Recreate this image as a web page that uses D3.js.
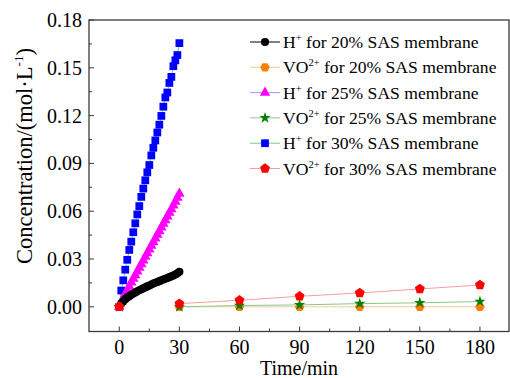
<!DOCTYPE html>
<html>
<head>
<meta charset="utf-8">
<script src="https://cdn.jsdelivr.net/npm/d3@7"></script>
<style>
  body { margin: 0; background: #fff; }
  svg { display: block; font-family: "Liberation Serif", "Times New Roman", serif; }
</style>
</head>
<body>
<div id="chart"></div>
<script>

///
/// Data
///
const tH = [0, 1, 2, 3, 4, 5, 6, 7, 8, 9, 10, 11, 12, 13, 14, 15, 16, 17, 18, 19, 20,
            21, 22, 23, 24, 25, 26, 27, 28, 29, 30];

const h20 = [0, 0.0020, 0.0035, 0.0048, 0.0058, 0.0067, 0.0075, 0.0083, 0.0090, 0.0097, 0.0104,
             0.0110, 0.0116, 0.0122, 0.0128, 0.0134, 0.0140, 0.0146, 0.0151, 0.0156, 0.0161,
             0.0166, 0.0171, 0.0176, 0.0181, 0.0186, 0.0191, 0.0196, 0.0203, 0.0210, 0.0220];

const h25 = [0, 0.0030, 0.0055, 0.0080, 0.0104, 0.0128, 0.0152, 0.0176, 0.0199, 0.0222, 0.0245,
             0.0268, 0.0291, 0.0314, 0.0337, 0.0360, 0.0383, 0.0406, 0.0429, 0.0452, 0.0475,
             0.0498, 0.0521, 0.0544, 0.0567, 0.0590, 0.0613, 0.0636, 0.0660, 0.0685, 0.0710];

const h30 = [0, 0.0102, 0.0166, 0.0233, 0.0295, 0.0357, 0.0409, 0.0468, 0.0524, 0.0580, 0.0632,
             0.0690, 0.0742, 0.0794, 0.0844, 0.0890, 0.0950, 0.0998, 0.1044, 0.1094, 0.1143,
             0.1198, 0.1256, 0.1314, 0.1345, 0.1405, 0.1443, 0.1510, 0.1547, 0.1580, 0.1655];

const tVO = [0, 30, 60, 90, 120, 150, 180];
const vo20 = [0, 0, 0, 0, 0, 0, 0];
const vo25 = [0, 0, 0.0008, 0.0012, 0.0020, 0.0025, 0.0033];
const vo30 = [0, 0.0020, 0.0041, 0.0066, 0.0087, 0.0112, 0.0137];

const xTicks = [0, 30, 60, 90, 120, 150, 180];
const yTicks = [0, 0.03, 0.06, 0.09, 0.12, 0.15, 0.18];

const series = [
  { ion: "H", sup: "+", pct: "20%", t: tH, v: h20, shape: "circle", fill: "#000000", line: "#000000" },
  { ion: "VO", sup: "2+", pct: "20%", t: tVO, v: vo20, shape: "hexagon", fill: "#ff8000", line: "#f7c89a" },
  { ion: "H", sup: "+", pct: "25%", t: tH, v: h25, shape: "triangle", fill: "#ff00ff", line: "#9c9cff" },
  { ion: "VO", sup: "2+", pct: "25%", t: tVO, v: vo25, shape: "star", fill: "#008000", line: "#8cc88c" },
  { ion: "H", sup: "+", pct: "30%", t: tH, v: h30, shape: "square", fill: "#0000ff", line: "#80c880" },
  { ion: "VO", sup: "2+", pct: "30%", t: tVO, v: vo30, shape: "pentagon", fill: "#ff0000", line: "#f2a0a0" }
];

///
/// Setup
///
const width = 510, height = 378;
const pLeft = 89, pRight = 509, pTop = 20, pBottom = 331.5;

const svg = d3.select("#chart").append("svg")
  .attr("width", width)
  .attr("height", height);

const x = d3.scaleLinear().domain([-15.1, 194.5]).range([pLeft, pRight]);
const y = d3.scaleLinear().domain([-0.0155, 0.18]).range([pBottom, pTop]);

///
/// Markers
///
function polygon(n, r, rot) {
  var pts = [];
  for (var i = 0; i < n; i++) {
    var a = rot + i * 2 * Math.PI / n;
    pts.push([r * Math.cos(a), r * Math.sin(a)]);
  }
  return "M" + pts.map(p => p[0].toFixed(2) + "," + p[1].toFixed(2)).join("L") + "Z";
}

function markerPath(shape) {
  if (shape === "circle") return d3.symbol(d3.symbolCircle, 52)();
  if (shape === "square") return d3.symbol(d3.symbolSquare, 60)();
  if (shape === "triangle") return d3.symbol(d3.symbolTriangle, 48)();
  if (shape === "star") return d3.symbol(d3.symbolStar, 40)();
  if (shape === "pentagon") return polygon(5, 5.2, -Math.PI / 2);
  if (shape === "hexagon") return polygon(6, 4.8, 0);
}

///
/// Frame & axes
///
svg.append("rect")
  .attr("x", pLeft).attr("y", pTop)
  .attr("width", pRight - pLeft).attr("height", pBottom - pTop)
  .attr("fill", "none").attr("stroke", "#3a3a3a").attr("stroke-width", 1.3);

const xMinor = [15, 45, 75, 105, 135, 165];
const yMinor = [0.015, 0.045, 0.075, 0.105, 0.135, 0.165];

const ax = svg.append("g").attr("stroke", "#3a3a3a").attr("stroke-width", 1);
xTicks.forEach(d => ax.append("line").attr("x1", x(d)).attr("x2", x(d)).attr("y1", pBottom).attr("y2", pBottom - 5));
xMinor.forEach(d => ax.append("line").attr("x1", x(d)).attr("x2", x(d)).attr("y1", pBottom).attr("y2", pBottom - 3));
yTicks.forEach(d => ax.append("line").attr("y1", y(d)).attr("y2", y(d)).attr("x1", pLeft).attr("x2", pLeft + 5));
yMinor.forEach(d => ax.append("line").attr("y1", y(d)).attr("y2", y(d)).attr("x1", pLeft).attr("x2", pLeft + 3));

svg.append("g").selectAll("text").data(xTicks).join("text")
  .attr("x", d => x(d)).attr("y", 354)
  .attr("text-anchor", "middle").attr("font-size", 20)
  .text(d => d);

svg.append("g").selectAll("text").data(yTicks).join("text")
  .attr("x", 82).attr("y", d => y(d) + 7)
  .attr("text-anchor", "end").attr("font-size", 20)
  .text(d3.format(".2f"));

svg.append("text")
  .attr("x", 299).attr("y", 375)
  .attr("text-anchor", "middle").attr("font-size", 20)
  .text("Time/min");

const yl = svg.append("text")
  .attr("transform", "translate(32,156) rotate(-90)")
  .attr("text-anchor", "middle").attr("font-size", 22.5);
yl.append("tspan").text("Concentration/(mol\u00b7L");
yl.append("tspan").attr("dy", -9).attr("font-size", 13).text("-1");
yl.append("tspan").attr("dy", 9).text(")");

///
/// Series
///
const line = d3.line().x(d => x(d[0])).y(d => y(d[1]));
const drawOrder = [4, 2, 0, 1, 3, 5];

drawOrder.forEach(i => {
  var s = series[i];
  var pts = s.t.map((t, j) => [t, s.v[j]]);
  var linePts = s.ion === "VO" ? pts.slice(1) : pts;
  svg.append("path")
    .attr("d", line(linePts))
    .attr("fill", "none").attr("stroke", s.line).attr("stroke-width", 1);
  svg.append("g").selectAll("path").data(pts).join("path")
    .attr("transform", d => "translate(" + x(d[0]) + "," + y(d[1]) + ")")
    .attr("d", markerPath(s.shape))
    .attr("fill", s.fill);
});

///
/// Legend
///
const lg = svg.append("g");
series.forEach((s, i) => {
  var ly = 42 + i * 25.3;
  lg.append("line").attr("x1", 250).attr("x2", 280).attr("y1", ly).attr("y2", ly)
    .attr("stroke", s.line).attr("stroke-width", 1);
  lg.append("path").attr("transform", "translate(265," + ly + ")")
    .attr("d", markerPath(s.shape)).attr("fill", s.fill);
  var t = lg.append("text").attr("x", 283).attr("y", ly + 6).attr("font-size", 17.6);
  t.append("tspan").text(s.ion);
  t.append("tspan").attr("dy", -7).attr("font-size", 10.5).text(s.sup);
  t.append("tspan").attr("dy", 7).text(" for " + s.pct + " SAS membrane");
});

</script>
</body>
</html>
